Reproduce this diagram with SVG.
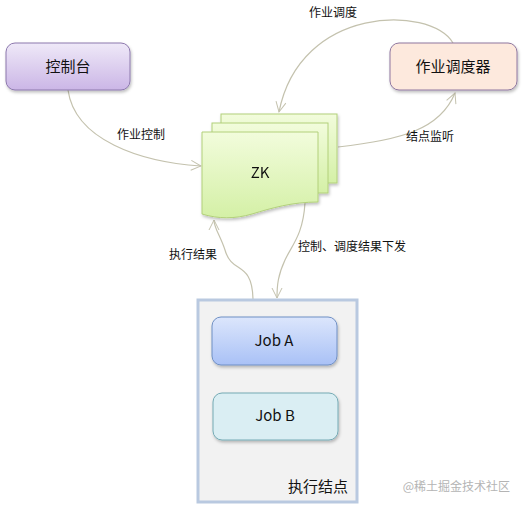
<svg xmlns="http://www.w3.org/2000/svg" width="522" height="506" viewBox="0 0 522 506">
<defs>
  <linearGradient id="gPurple" x1="0" y1="0" x2="0" y2="1">
    <stop offset="0" stop-color="#efe9f8"/>
    <stop offset="1" stop-color="#cbb6e6"/>
  </linearGradient>
  <linearGradient id="gGreen" x1="0" y1="0" x2="0" y2="1">
    <stop offset="0" stop-color="#f2fcdc"/>
    <stop offset="1" stop-color="#d4f0a6"/>
  </linearGradient>
  <linearGradient id="gBlue" x1="0" y1="0" x2="0" y2="1">
    <stop offset="0" stop-color="#dce6fc"/>
    <stop offset="1" stop-color="#a9c1f6"/>
  </linearGradient>
  <filter id="sh" x="-10%" y="-10%" width="130%" height="140%">
    <feDropShadow dx="1" dy="2" stdDeviation="1.5" flood-color="#000" flood-opacity="0.25"/>
  </filter>
  <marker id="arr" viewBox="0 0 12 12" refX="11" refY="6" markerWidth="12" markerHeight="12" markerUnits="userSpaceOnUse" orient="auto">
    <path d="M1,1 L11,6 L1,11" fill="none" stroke="#c4c2ae" stroke-width="1"/>
  </marker>
</defs>
<style>
  .lbl { font-family: "Noto Sans CJK SC", "Noto Sans", sans-serif; font-size: 12px; fill: #111; }
  .node { font-family: "Noto Sans CJK SC", "Noto Sans", sans-serif; font-size: 15px; fill: #111; }
  .conn { fill: none; stroke: #c4c2ae; stroke-width: 1.2; marker-end: url(#arr); }
  .sheet { fill: url(#gGreen); stroke: #b2d07a; stroke-width: 1; }
</style>

<g id="connectors">
  <path class="conn" d="M68,90 C75,140 140,162 201,166"/>
  <path class="conn" d="M453,43 C430,5 300,5 279,112"/>
  <path class="conn" d="M338,147 C400,140 440,130 455,93"/>
  <path class="conn" d="M253,299 C252,260 232,275 225,250 C220,235 214,228 214,220"/>
  <path class="conn" d="M305,203 C303,235 292,245 285,260 C278,275 277,285 277,298"/>
  <text class="lbl" x="333" y="17" text-anchor="middle">作业调度</text>
  <text class="lbl" x="141" y="139" text-anchor="middle">作业控制</text>
  <text class="lbl" x="430" y="141" text-anchor="middle">结点监听</text>
  <text class="lbl" x="193" y="259" text-anchor="middle">执行结果</text>
  <text class="lbl" x="298" y="251">控制、调度结果下发</text>
</g>

<g id="node-console">
  <rect x="6" y="43" width="124" height="47" rx="9" fill="url(#gPurple)" stroke="#8c78ad" stroke-width="1" filter="url(#sh)"/>
  <text class="node" x="68" y="72" text-anchor="middle">控制台</text>
</g>

<g id="node-scheduler">
  <rect x="390" y="43" width="127" height="47" rx="9" fill="#fde9dd" stroke="#8f779f" stroke-width="1" filter="url(#sh)"/>
  <text class="node" x="453" y="72" text-anchor="middle">作业调度器</text>
</g>

<g id="node-zk" filter="url(#sh)">
  <rect class="sheet" x="221" y="114" width="116" height="69"/>
  <rect class="sheet" x="212" y="123" width="116" height="70"/>
  <path class="sheet" d="M202,132 H318 V202 C292,202 272,208 252,214 C235,219 218,219 202,214 Z"/>
  <text class="node" x="260" y="178" text-anchor="middle" font-size="16">ZK</text>
</g>

<g id="node-exec">
  <rect x="198" y="300" width="159" height="202" fill="#f2f2f2" stroke="#b9c9e0" stroke-width="3"/>
  <text class="node" x="318" y="492" text-anchor="middle">执行结点</text>
</g>

<g id="node-joba">
  <rect x="212" y="317" width="125" height="48" rx="9" fill="url(#gBlue)" stroke="#6f8fc4" stroke-width="1" filter="url(#sh)"/>
  <text class="node" x="274" y="346" text-anchor="middle">Job A</text>
</g>

<g id="node-jobb">
  <rect x="213" y="393" width="125" height="47" rx="9" fill="#daeef3" stroke="#74aab4" stroke-width="1" filter="url(#sh)"/>
  <text class="node" x="275" y="421" text-anchor="middle">Job B</text>
</g>

<text x="510" y="491" text-anchor="end" font-family="Noto Sans CJK SC, sans-serif" font-size="12" fill="#b4b4b4">@稀土掘金技术社区</text>
</svg>
